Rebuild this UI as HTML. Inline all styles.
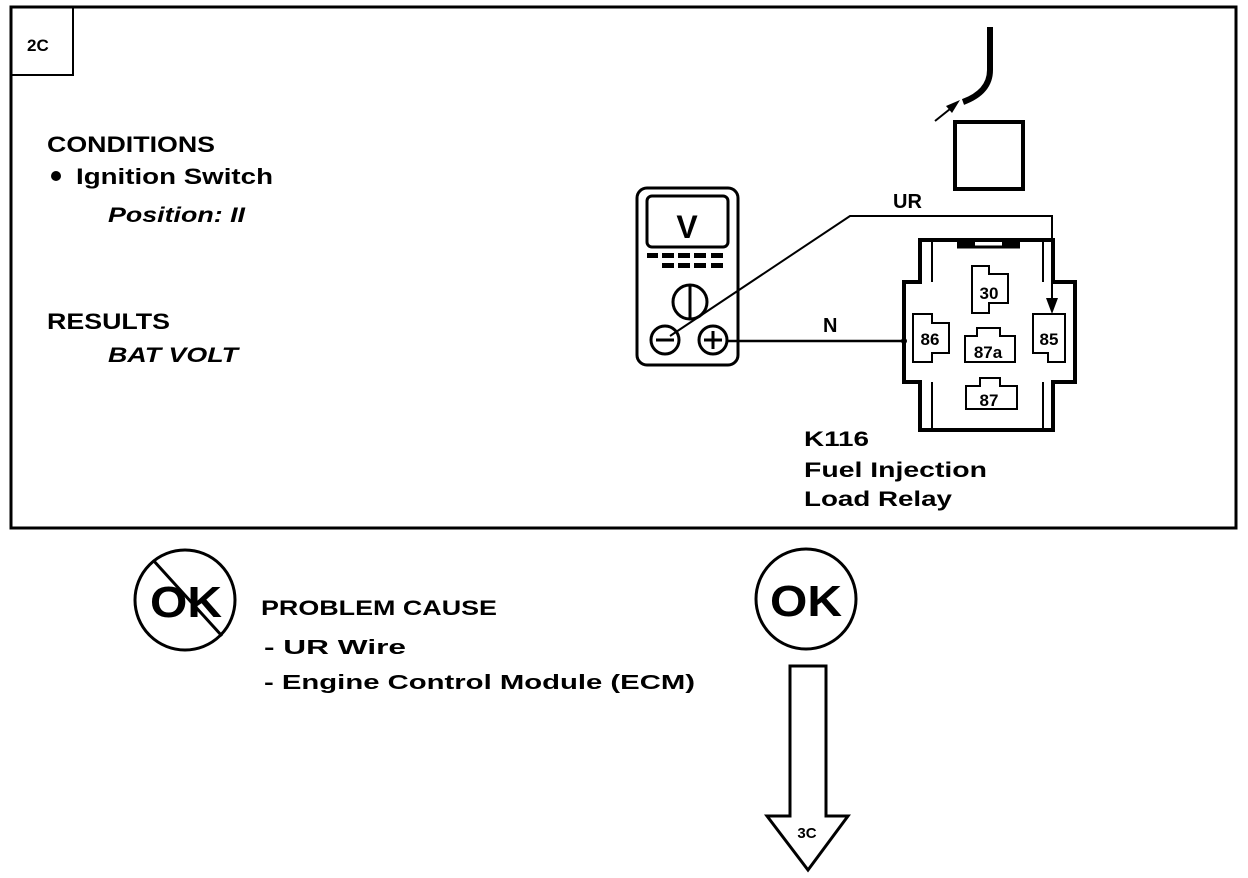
<!DOCTYPE html>
<html><head><meta charset="utf-8"><style>
html,body{margin:0;padding:0;background:#fff}
svg{display:block}
text{font-family:"Liberation Sans",Arial,sans-serif;font-weight:bold;fill:#000}
</style></head><body>
<svg width="1248" height="878" viewBox="0 0 1248 878" xmlns="http://www.w3.org/2000/svg">
<rect x="11" y="7" width="1225" height="521" fill="none" stroke="#000" stroke-width="3"/>
<rect x="11" y="7" width="62" height="68" fill="none" stroke="#000" stroke-width="2"/>
<text x="27" y="51" font-size="17">2C</text>
<text x="47" y="152" font-size="22" textLength="168" lengthAdjust="spacingAndGlyphs">CONDITIONS</text>
<circle cx="56" cy="176" r="5" fill="#000"/>
<text x="76" y="184" font-size="22" textLength="197" lengthAdjust="spacingAndGlyphs">Ignition Switch</text>
<text x="108" y="222" font-size="21" font-style="italic" font-weight="normal" textLength="137" lengthAdjust="spacingAndGlyphs">Position: II</text>
<text x="47" y="329" font-size="22" textLength="123" lengthAdjust="spacingAndGlyphs">RESULTS</text>
<text x="108" y="362" font-size="21" font-style="italic" font-weight="normal" textLength="130" lengthAdjust="spacingAndGlyphs">BAT VOLT</text>
<!-- cable and square -->
<path d="M990 27 L990 70 Q990 92 963 102" fill="none" stroke="#000" stroke-width="6"/>
<line x1="935" y1="121" x2="955" y2="105" stroke="#000" stroke-width="2"/>
<polygon points="960,100 946,106 952,113" fill="#000"/>
<rect x="955" y="122" width="68" height="67" fill="none" stroke="#000" stroke-width="4"/>
<!-- meter -->
<rect x="637" y="188" width="101" height="177" rx="10" fill="none" stroke="#000" stroke-width="3"/>
<rect x="647" y="196" width="81" height="51" rx="5" fill="none" stroke="#000" stroke-width="3"/>
<text x="687" y="238" font-size="32" text-anchor="middle">V</text>
<g fill="#000">
<rect x="647" y="253" width="11" height="5"/><rect x="662" y="253" width="12" height="5"/><rect x="678" y="253" width="12" height="5"/><rect x="694" y="253" width="12" height="5"/><rect x="711" y="253" width="12" height="5"/>
<rect x="662" y="263" width="12" height="5"/><rect x="678" y="263" width="12" height="5"/><rect x="694" y="263" width="12" height="5"/><rect x="711" y="263" width="12" height="5"/>
</g>
<circle cx="690" cy="302" r="17" fill="none" stroke="#000" stroke-width="3"/>
<line x1="690" y1="285" x2="690" y2="319" stroke="#000" stroke-width="3"/>
<circle cx="665" cy="340" r="14" fill="none" stroke="#000" stroke-width="3"/>
<line x1="656" y1="340" x2="674" y2="340" stroke="#000" stroke-width="3"/>
<circle cx="713" cy="340" r="14" fill="none" stroke="#000" stroke-width="3"/>
<line x1="704" y1="340" x2="722" y2="340" stroke="#000" stroke-width="3"/>
<line x1="713" y1="331" x2="713" y2="349" stroke="#000" stroke-width="3"/>
<!-- wires -->
<polyline points="670,336 850,216 1052,216 1052,305" fill="none" stroke="#000" stroke-width="2"/>
<polygon points="1046,298 1058,298 1052,314" fill="#000"/>
<line x1="727" y1="341" x2="906" y2="341" stroke="#000" stroke-width="2.5"/>
<circle cx="904" cy="341" r="3" fill="#000"/>
<text x="893" y="208" font-size="20">UR</text>
<text x="823" y="332" font-size="20">N</text>
<!-- relay -->
<path d="M920 240 L1053 240 L1053 282 L1075 282 L1075 382 L1053 382 L1053 430 L920 430 L920 382 L904 382 L904 282 L920 282 Z" fill="none" stroke="#000" stroke-width="4"/>
<path d="M932 240 V282 M1043 240 V282 M932 382 V430 M1043 382 V430" stroke="#000" stroke-width="2"/>
<rect x="957" y="240" width="18" height="7" fill="#000"/><rect x="1002" y="240" width="18" height="7" fill="#000"/>
<line x1="957" y1="247" x2="1020" y2="247" stroke="#000" stroke-width="3"/>
<path d="M972 266 H989 V274 H1008 V303 H989 V313 H972 Z" fill="none" stroke="#000" stroke-width="2"/>
<text x="989" y="299" font-size="17" text-anchor="middle" font-weight="normal">30</text>
<path d="M913 314 H932 V323 H949 V353 H932 V362 H913 Z" fill="none" stroke="#000" stroke-width="2"/>
<text x="930" y="345" font-size="17" text-anchor="middle" font-weight="normal">86</text>
<path d="M977 328 H1000 V336 H1015 V362 H965 V336 H977 Z" fill="none" stroke="#000" stroke-width="2"/>
<text x="988" y="358" font-size="17" text-anchor="middle" font-weight="normal">87a</text>
<path d="M1048 314 H1033 V323 H1033 V353 H1048 V362 H1065 V314 Z" fill="none" stroke="#000" stroke-width="2"/>
<text x="1049" y="345" font-size="17" text-anchor="middle" font-weight="normal">85</text>
<path d="M980 378 H1000 V386 H1017 V409 H966 V386 H980 Z" fill="none" stroke="#000" stroke-width="2"/>
<text x="989" y="406" font-size="17" text-anchor="middle" font-weight="normal">87</text>
<text x="804" y="446" font-size="21" textLength="65" lengthAdjust="spacingAndGlyphs">K116</text>
<text x="804" y="477" font-size="21" textLength="183" lengthAdjust="spacingAndGlyphs">Fuel Injection</text>
<text x="804" y="506" font-size="21" textLength="148" lengthAdjust="spacingAndGlyphs">Load Relay</text>
<!-- bottom -->
<circle cx="185" cy="600" r="50" fill="none" stroke="#000" stroke-width="3"/>
<text x="186" y="617" font-size="44" text-anchor="middle" textLength="72" lengthAdjust="spacingAndGlyphs">OK</text>
<line x1="153" y1="560" x2="222" y2="636" stroke="#000" stroke-width="3"/>
<text x="261" y="615" font-size="21" textLength="236" lengthAdjust="spacingAndGlyphs">PROBLEM CAUSE</text>
<text x="264" y="654" font-size="20" textLength="142" lengthAdjust="spacingAndGlyphs">-  UR  Wire</text>
<text x="264" y="689" font-size="20" textLength="431" lengthAdjust="spacingAndGlyphs">-  Engine Control Module (ECM)</text>
<circle cx="806" cy="599" r="50" fill="none" stroke="#000" stroke-width="3"/>
<text x="806" y="616" font-size="44" text-anchor="middle" textLength="72" lengthAdjust="spacingAndGlyphs">OK</text>
<path d="M790 666 H826 V816 H848 L808 870 L767 816 H790 Z" fill="none" stroke="#000" stroke-width="3"/>
<text x="807" y="838" font-size="15" text-anchor="middle">3C</text>
</svg>
</body></html>
